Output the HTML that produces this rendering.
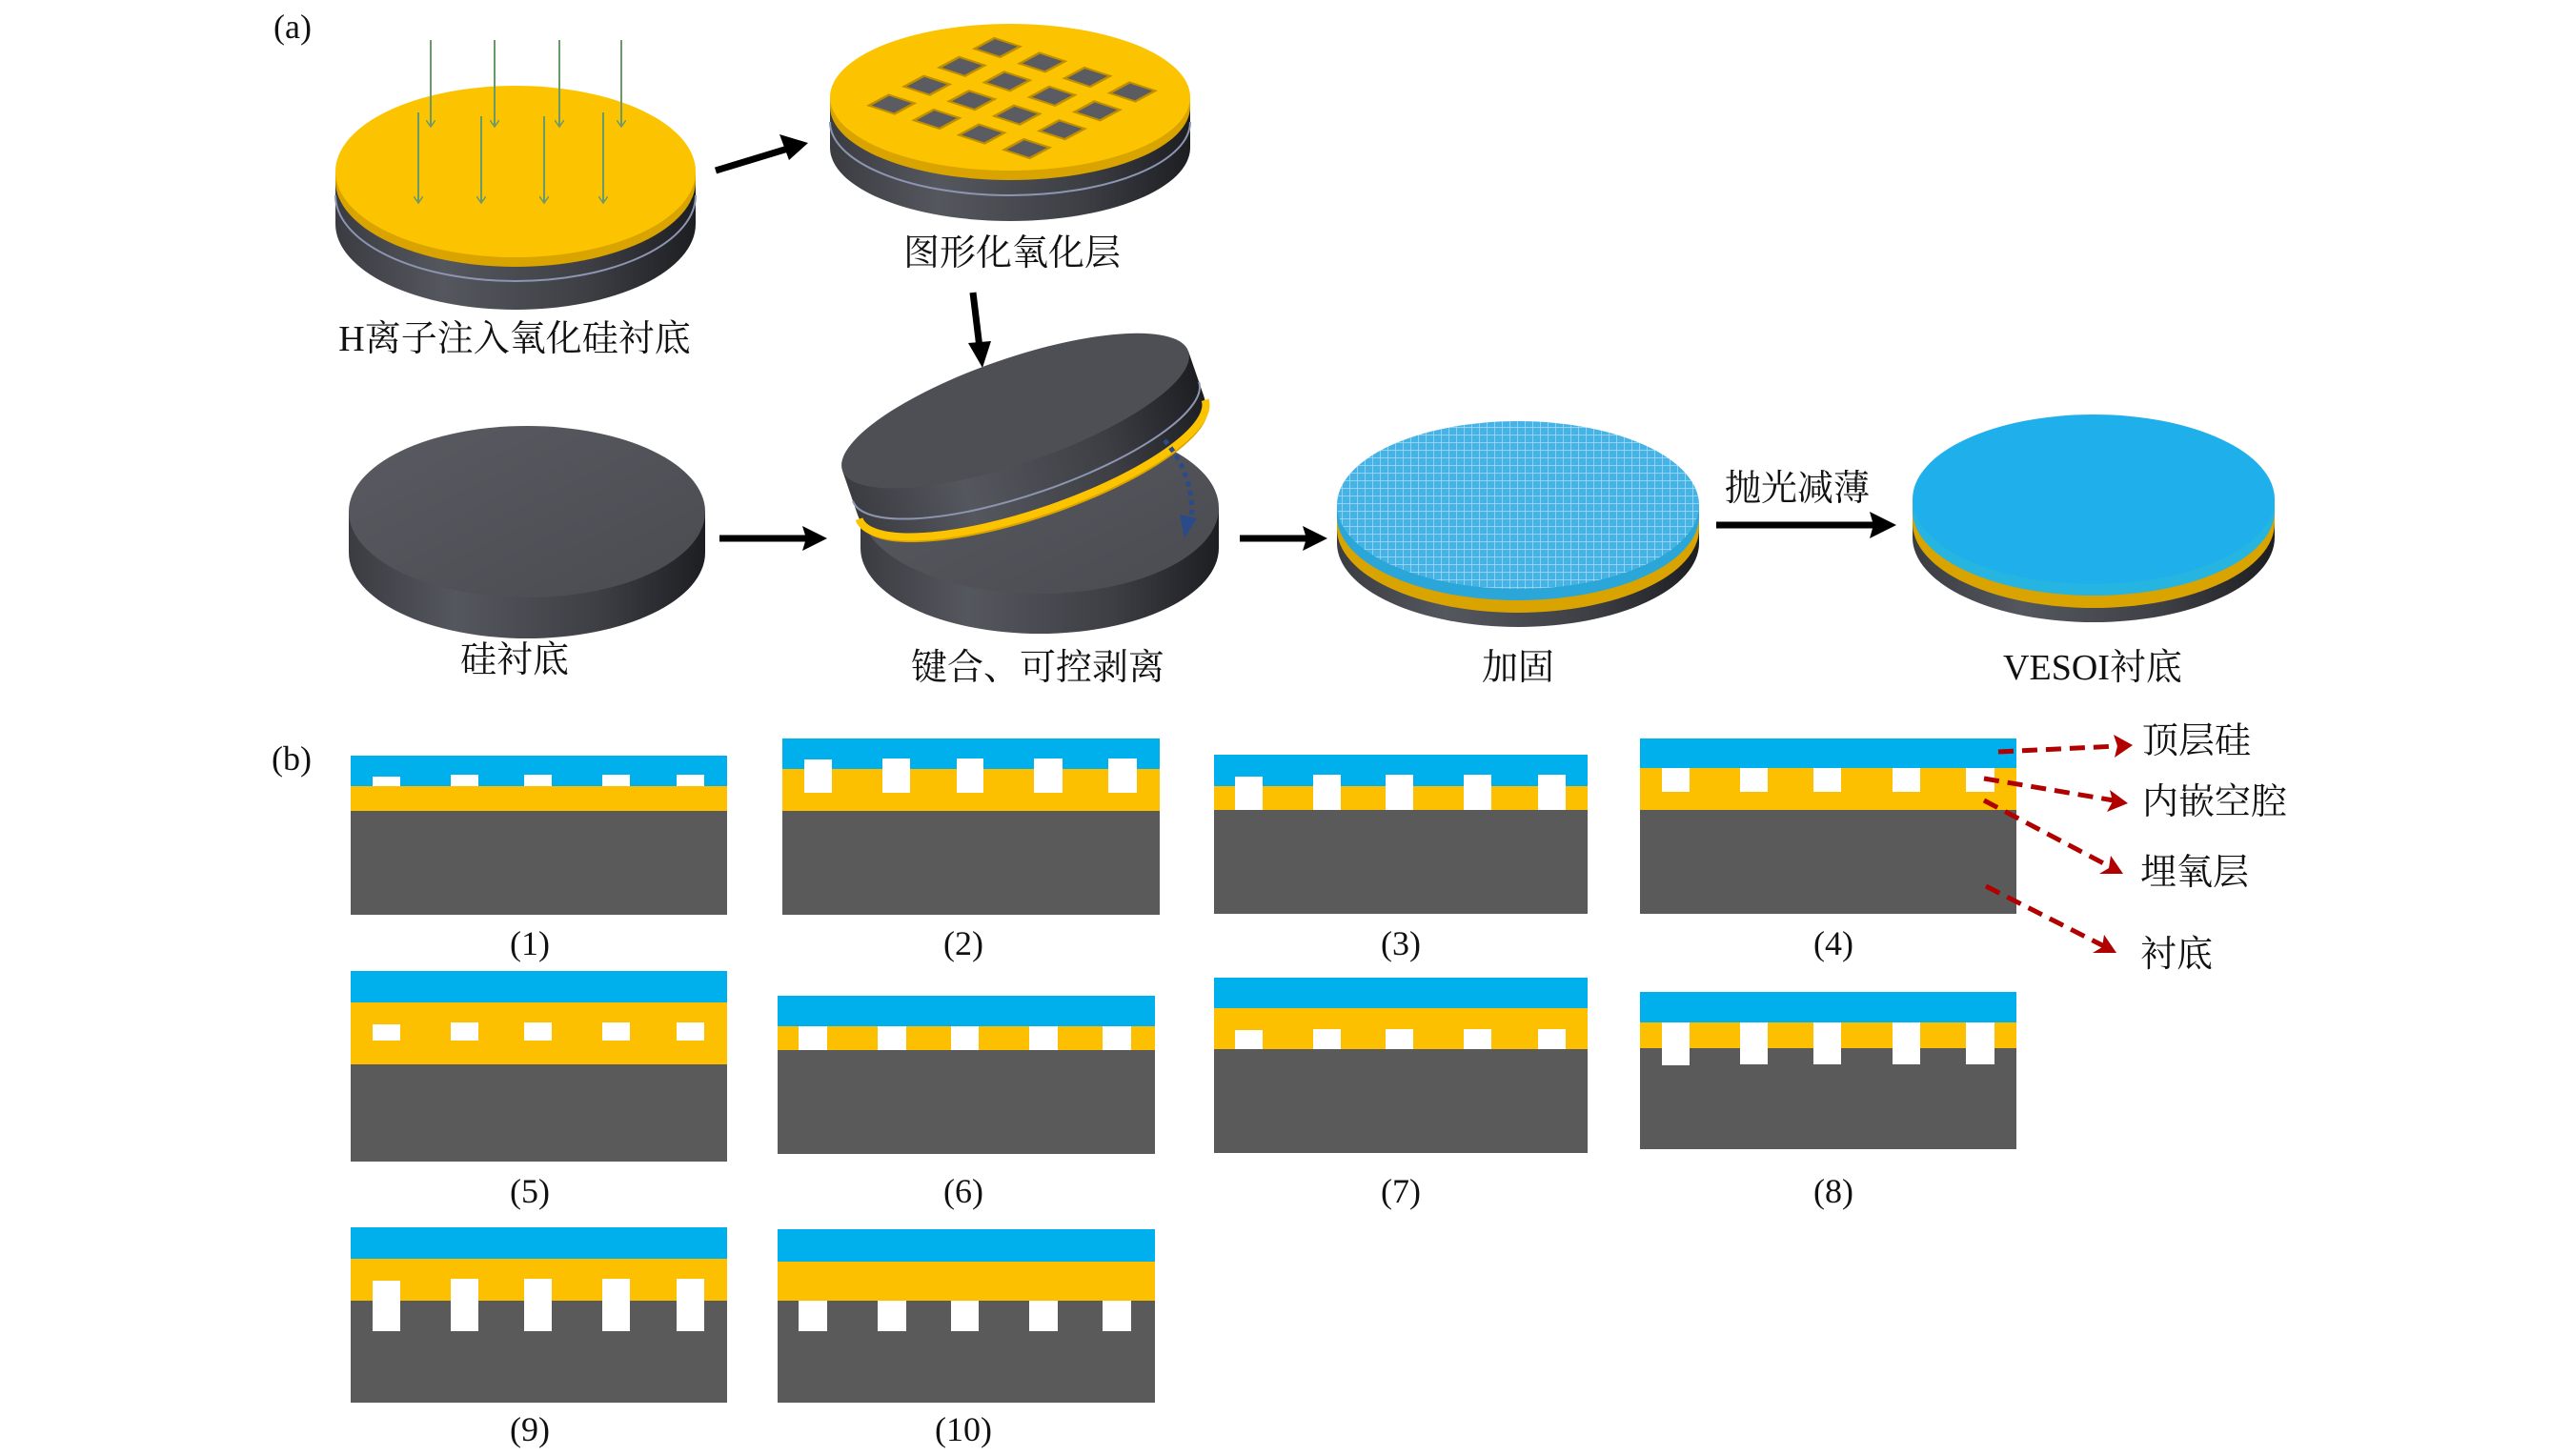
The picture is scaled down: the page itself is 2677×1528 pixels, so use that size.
<!DOCTYPE html>
<html><head><meta charset="utf-8"><style>
html,body{margin:0;padding:0;background:#fff;}
svg{display:block}
.cn{font-family:"Liberation Serif","Noto Serif CJK SC",serif;font-size:38px;fill:#111;text-anchor:middle}
.lb{font-family:"Liberation Serif",serif;font-size:36px;fill:#111;text-anchor:middle}
</style></head><body>
<svg width="2677" height="1528" viewBox="0 0 2677 1528" xmlns="http://www.w3.org/2000/svg">
<defs>
<linearGradient id="side" x1="0" x2="1" y1="0" y2="0">
<stop offset="0" stop-color="#3a3c42"/><stop offset="0.3" stop-color="#55575e"/><stop offset="0.7" stop-color="#3d3f45"/><stop offset="1" stop-color="#1d1e22"/>
</linearGradient>
<linearGradient id="topd" x1="0" x2="1" y1="0" y2="1">
<stop offset="0" stop-color="#5a5b62"/><stop offset="1" stop-color="#4a4b51"/>
</linearGradient>
<pattern id="mesh" width="8" height="8" patternUnits="userSpaceOnUse">
<rect width="8" height="8" fill="#45b3e6"/><path d="M0 0H8M0 0V8" stroke="#a8dcf3" stroke-width="1.5"/>
</pattern>
<marker id="ga" markerWidth="8" markerHeight="10" refX="7" refY="5" orient="auto" markerUnits="userSpaceOnUse"><path d="M0,0 L7,5 L0,10" fill="none" stroke="#6a9a6a" stroke-width="1.5"/></marker>
</defs>

<text x="307" y="40" class="lb">(a)</text>
<text x="306" y="808" class="lb">(b)</text>

<!-- Wafer 1 -->
<path d="M352 180 V235 A189 90 0 0 0 730 235 V180 Z" fill="url(#side)"/>
<path d="M352 205 A189 90 0 0 0 730 205" fill="none" stroke="#8d95b0" stroke-width="2"/>
<path d="M352 180 V190 A189 90 0 0 0 730 190 V180 Z" fill="#d9a300"/>
<ellipse cx="541" cy="180" rx="189" ry="90" fill="#fcc400"/>
<g stroke="#6a9a6a" stroke-width="2" fill="none">
<line x1="452" y1="42" x2="452" y2="133" marker-end="url(#ga)"/>
<line x1="519" y1="42" x2="519" y2="133" marker-end="url(#ga)"/>
<line x1="587" y1="42" x2="587" y2="133" marker-end="url(#ga)"/>
<line x1="652" y1="42" x2="652" y2="133" marker-end="url(#ga)"/>
<line x1="439" y1="118" x2="439" y2="213" marker-end="url(#ga)"/>
<line x1="505" y1="122" x2="505" y2="213" marker-end="url(#ga)"/>
<line x1="571" y1="122" x2="571" y2="213" marker-end="url(#ga)"/>
<line x1="633" y1="118" x2="633" y2="213" marker-end="url(#ga)"/>
</g>
<text x="540" y="368" class="cn">H离子注入氧化硅衬底</text>

<line x1="751" y1="179" x2="830" y2="155" stroke="#000" stroke-width="7"/>
<path d="M848 150 L818 141 L828 168 Z" fill="#000"/>

<!-- Wafer 2 -->
<path d="M871 102 V155 A189 77 0 0 0 1249 155 V102 Z" fill="url(#side)"/>
<path d="M871 128 A189 77 0 0 0 1249 128" fill="none" stroke="#8d95b0" stroke-width="2"/>
<path d="M871 102 V112 A189 77 0 0 0 1249 112 V102 Z" fill="#d9a300"/>
<ellipse cx="1060" cy="102" rx="189" ry="77" fill="#fcc400"/>
<g transform="translate(1062,103) scale(1,0.42) rotate(38)">
<g fill="#5b5c62" stroke="#c08f00" stroke-width="4">
<rect x="-107" y="-107" width="34" height="34"/><rect x="-47" y="-107" width="34" height="34"/><rect x="13" y="-107" width="34" height="34"/><rect x="73" y="-107" width="34" height="34"/>
<rect x="-107" y="-47" width="34" height="34"/><rect x="-47" y="-47" width="34" height="34"/><rect x="13" y="-47" width="34" height="34"/><rect x="73" y="-47" width="34" height="34"/>
<rect x="-107" y="13" width="34" height="34"/><rect x="-47" y="13" width="34" height="34"/><rect x="13" y="13" width="34" height="34"/><rect x="73" y="13" width="34" height="34"/>
<rect x="-107" y="73" width="34" height="34"/><rect x="-47" y="73" width="34" height="34"/><rect x="13" y="73" width="34" height="34"/><rect x="73" y="73" width="34" height="34"/>
</g></g>
<text x="1062" y="278" class="cn">图形化氧化层</text>

<line x1="1021" y1="307" x2="1028" y2="365" stroke="#000" stroke-width="7"/>
<path d="M1031 386 L1016 360 L1040 358 Z" fill="#000"/>

<!-- Wafer 3 -->
<path d="M366 537 V580 A187 90 0 0 0 740 580 V537 Z" fill="url(#side)"/>
<ellipse cx="553" cy="537" rx="187" ry="90" fill="url(#topd)"/>
<text x="540" y="705" class="cn">硅衬底</text>
<line x1="755" y1="565" x2="850" y2="565" stroke="#000" stroke-width="7"/>
<path d="M868 565 L842 552 L846 565 L842 578 Z" fill="#000"/>

<!-- Bonding -->
<path d="M903 533 V575 A188 90 0 0 0 1279 575 V533 Z" fill="url(#side)"/>
<ellipse cx="1091" cy="533" rx="188" ry="90" fill="url(#topd)"/>
<g transform="translate(1072,450) rotate(-19)">
<path d="M-192 -20 V40 A192 55 0 0 0 192 40 V-20 Z" fill="#d9a300"/>
<path d="M-192 -20 V30 A192 55 0 0 0 192 30 V-20 Z" fill="url(#side)"/>
<path d="M-192 34 A192 55 0 0 0 192 34" fill="none" stroke="#fcc400" stroke-width="8"/>
<path d="M-192 14 A192 55 0 0 0 192 14" fill="none" stroke="#8d95b0" stroke-width="2"/>
<ellipse cx="0" cy="-20" rx="192" ry="55" fill="#4e4f55"/>
</g>
<path d="M1222 462 Q1255 500 1250 550" fill="none" stroke="#2b4a8a" stroke-width="5" stroke-dasharray="5 5"/>
<path d="M1243 565 L1238 540 L1256 544 Z" fill="#2b4a8a"/>
<text x="1089" y="713" class="cn">键合、可控剥离</text>
<line x1="1301" y1="565" x2="1375" y2="565" stroke="#000" stroke-width="7"/>
<path d="M1393 565 L1367 552 L1371 565 L1367 578 Z" fill="#000"/>

<!-- 加固 -->
<path d="M1403 530 V570 A190 88 0 0 0 1783 570 V530 Z" fill="url(#side)"/>
<path d="M1403 540 V555 A190 88 0 0 0 1783 555 V540 Z" fill="#d9a300"/>
<path d="M1403 530 V542 A190 88 0 0 0 1783 542 V530 Z" fill="#2aa6d8"/>
<ellipse cx="1593" cy="530" rx="190" ry="88" fill="url(#mesh)"/>
<text x="1593" y="713" class="cn">加固</text>
<text x="1886" y="525" class="cn">抛光减薄</text>
<line x1="1801" y1="551" x2="1970" y2="551" stroke="#000" stroke-width="7"/>
<path d="M1990 551 L1962 537 L1966 551 L1962 565 Z" fill="#000"/>

<!-- VESOI -->
<path d="M2007 524 V564 A190 89 0 0 0 2387 564 V524 Z" fill="url(#side)"/>
<path d="M2007 534 V549 A190 89 0 0 0 2387 549 V534 Z" fill="#d9a300"/>
<path d="M2007 524 V536 A190 89 0 0 0 2387 536 V524 Z" fill="#25b5e0"/>
<ellipse cx="2197" cy="524" rx="190" ry="89" fill="#1fb0ec"/>
<text x="2196" y="713" class="cn">VESOI衬底</text>

<g shape-rendering="crispEdges">
<rect x="368" y="793" width="395" height="32" fill="#00b0ec"/><rect x="368" y="825" width="395" height="26" fill="#fcc000"/><rect x="368" y="851" width="395" height="109" fill="#5a5a5a"/>
<g fill="#fff"><rect x="391" y="815" width="29" height="10"/><rect x="473" y="813" width="29" height="12"/><rect x="550" y="813" width="29" height="12"/><rect x="632" y="813" width="29" height="12"/><rect x="710" y="813" width="29" height="12"/></g>
<rect x="821" y="775" width="396" height="32" fill="#00b0ec"/><rect x="821" y="807" width="396" height="44" fill="#fcc000"/><rect x="821" y="851" width="396" height="109" fill="#5a5a5a"/>
<g fill="#fff"><rect x="844" y="797" width="29" height="35"/><rect x="926" y="796" width="29" height="36"/><rect x="1004" y="796" width="28" height="36"/><rect x="1085" y="796" width="30" height="36"/><rect x="1163" y="796" width="30" height="36"/></g>
<rect x="1274" y="792" width="392" height="33" fill="#00b0ec"/><rect x="1274" y="825" width="392" height="25" fill="#fcc000"/><rect x="1274" y="850" width="392" height="109" fill="#5a5a5a"/>
<g fill="#fff"><rect x="1296" y="815" width="29" height="35"/><rect x="1378" y="813" width="29" height="37"/><rect x="1454" y="813" width="29" height="37"/><rect x="1536" y="813" width="29" height="37"/><rect x="1614" y="813" width="29" height="37"/></g>
<rect x="1721" y="775" width="395" height="31" fill="#00b0ec"/><rect x="1721" y="806" width="395" height="44" fill="#fcc000"/><rect x="1721" y="850" width="395" height="109" fill="#5a5a5a"/>
<g fill="#fff"><rect x="1744" y="806" width="29" height="25"/><rect x="1826" y="806" width="29" height="25"/><rect x="1903" y="806" width="29" height="25"/><rect x="1986" y="806" width="29" height="25"/><rect x="2063" y="806" width="30" height="25"/></g>
<rect x="368" y="1019" width="395" height="33" fill="#00b0ec"/><rect x="368" y="1052" width="395" height="65" fill="#fcc000"/><rect x="368" y="1117" width="395" height="102" fill="#5a5a5a"/>
<g fill="#fff"><rect x="391" y="1075" width="29" height="17"/><rect x="473" y="1073" width="29" height="19"/><rect x="550" y="1073" width="29" height="19"/><rect x="632" y="1073" width="29" height="19"/><rect x="710" y="1073" width="29" height="19"/></g>
<rect x="816" y="1045" width="396" height="32" fill="#00b0ec"/><rect x="816" y="1077" width="396" height="25" fill="#fcc000"/><rect x="816" y="1102" width="396" height="109" fill="#5a5a5a"/>
<g fill="#fff"><rect x="838" y="1077" width="30" height="25"/><rect x="921" y="1077" width="30" height="25"/><rect x="998" y="1077" width="29" height="25"/><rect x="1080" y="1077" width="30" height="25"/><rect x="1157" y="1077" width="30" height="25"/></g>
<rect x="1274" y="1026" width="392" height="32" fill="#00b0ec"/><rect x="1274" y="1058" width="392" height="43" fill="#fcc000"/><rect x="1274" y="1101" width="392" height="109" fill="#5a5a5a"/>
<g fill="#fff"><rect x="1296" y="1081" width="29" height="20"/><rect x="1378" y="1080" width="29" height="21"/><rect x="1454" y="1080" width="29" height="21"/><rect x="1536" y="1080" width="29" height="21"/><rect x="1614" y="1080" width="29" height="21"/></g>
<rect x="1721" y="1041" width="395" height="32" fill="#00b0ec"/><rect x="1721" y="1073" width="395" height="27" fill="#fcc000"/><rect x="1721" y="1100" width="395" height="106" fill="#5a5a5a"/>
<g fill="#fff"><rect x="1744" y="1073" width="29" height="45"/><rect x="1826" y="1073" width="29" height="44"/><rect x="1903" y="1073" width="29" height="44"/><rect x="1986" y="1073" width="29" height="44"/><rect x="2063" y="1073" width="30" height="44"/></g>
<rect x="368" y="1288" width="395" height="33" fill="#00b0ec"/><rect x="368" y="1321" width="395" height="44" fill="#fcc000"/><rect x="368" y="1365" width="395" height="107" fill="#5a5a5a"/>
<g fill="#fff"><rect x="391" y="1344" width="29" height="53"/><rect x="473" y="1342" width="29" height="55"/><rect x="550" y="1342" width="29" height="55"/><rect x="632" y="1342" width="29" height="55"/><rect x="710" y="1342" width="29" height="55"/></g>
<rect x="816" y="1290" width="396" height="34" fill="#00b0ec"/><rect x="816" y="1324" width="396" height="41" fill="#fcc000"/><rect x="816" y="1365" width="396" height="107" fill="#5a5a5a"/>
<g fill="#fff"><rect x="838" y="1365" width="30" height="32"/><rect x="921" y="1365" width="30" height="32"/><rect x="998" y="1365" width="29" height="32"/><rect x="1080" y="1365" width="30" height="32"/><rect x="1157" y="1365" width="30" height="32"/></g>
</g>

<text x="556" y="1002" class="lb">(1)</text>
<text x="1011" y="1002" class="lb">(2)</text>
<text x="1470" y="1002" class="lb">(3)</text>
<text x="1924" y="1002" class="lb">(4)</text>
<text x="556" y="1262" class="lb">(5)</text>
<text x="1011" y="1262" class="lb">(6)</text>
<text x="1470" y="1262" class="lb">(7)</text>
<text x="1924" y="1262" class="lb">(8)</text>
<text x="556" y="1512" class="lb">(9)</text>
<text x="1011" y="1512" class="lb">(10)</text>

<g stroke="#b00000" stroke-width="5" stroke-dasharray="16 9" fill="none">
<line x1="2097" y1="789" x2="2222" y2="783"/>
<line x1="2082" y1="817" x2="2218" y2="840"/>
<line x1="2082" y1="840" x2="2215" y2="910"/>
<line x1="2084" y1="930" x2="2208" y2="993"/>
</g>
<g fill="#b00000">
<path d="M2238 782 L2218 771 L2222 783 L2219 795 Z"/>
<path d="M2233 843 L2214 829 L2217 841 L2211 852 Z"/>
<path d="M2228 917 L2215 898 L2213 911 L2203 917 Z"/>
<path d="M2221 1000 L2208 981 L2206 994 L2196 1000 Z"/>
</g>
<text x="2248" y="790" class="cn" style="text-anchor:start">顶层硅</text>
<text x="2248" y="854" class="cn" style="text-anchor:start">内嵌空腔</text>
<text x="2246" y="928" class="cn" style="text-anchor:start">埋氧层</text>
<text x="2246" y="1014" class="cn" style="text-anchor:start">衬底</text>
</svg>
</body></html>
